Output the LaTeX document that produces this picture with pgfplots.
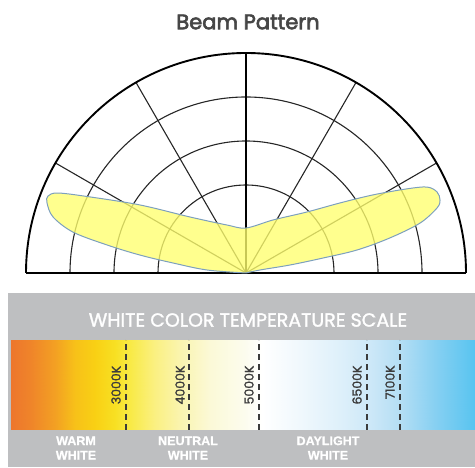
\documentclass[border=0pt]{standalone}
\usepackage{fontspec}
\setmainfont{Poppins}
\newfontfamily\titlefont{Poppins}[FakeBold=3]
\newfontfamily\scalefont{Poppins}[FakeBold=1.5]
\newfontfamily\lib{Liberation Sans}[FakeBold=1]
\usepackage{pgfplots}
\usepackage{pgfplotstable}
\pgfplotsset{compat=1.18}
\usepgfplotslibrary{polar}
\definecolor{panelgray}{RGB}{190,191,193}
\definecolor{titlegray}{RGB}{70,70,70}
\definecolor{dashgray}{RGB}{60,60,60}
\definecolor{beamyellow}{RGB}{255,255,110}
\definecolor{beamedge}{RGB}{125,160,190}
\pgfplotsset{colormap={temp}{
 rgb255=(237,118,45) rgb255=(239,132,42) rgb255=(243,160,35) rgb255=(247,193,25)
 rgb255=(249,208,20) rgb255=(248,224,35) rgb255=(249,234,70) rgb255=(250,240,130)
 rgb255=(250,244,175) rgb255=(251,249,215) rgb255=(252,252,238) rgb255=(255,255,255)
 rgb255=(240,248,253) rgb255=(222,240,250) rgb255=(205,232,248) rgb255=(180,222,244)
 rgb255=(135,208,242) rgb255=(88,196,240)}}
\pgfplotstableread{
x y c
11 0 0
30 0 1
55 0 2
75 0 3
95 0 4
115 0 5
130 0 6
155 0 7
180 0 8
210 0 9
245 0 10
262 0 11
300 0 12
340 0 13
370 0 14
400 0 15
435 0 16
475 0 17
11 1 0
30 1 1
55 1 2
75 1 3
95 1 4
115 1 5
130 1 6
155 1 7
180 1 8
210 1 9
245 1 10
262 1 11
300 1 12
340 1 13
370 1 14
400 1 15
435 1 16
475 1 17
}\gradtable
\begin{document}
\begin{tikzpicture}[x=1bp,y=1bp]
\path[use as bounding box] (0,0) rectangle (475,468);
\fill[panelgray] (8,1) rectangle (475,175);
\node[text=titlegray, font=\titlefont\fontsize{21bp}{24bp}\selectfont] at (248,446) {Beam Pattern};

\begin{polaraxis}[
  at={(246bp,195bp)}, anchor=origin,
  scale only axis, width=440bp, height=440bp,
  xmin=0, xmax=180, ymin=0, ymax=220,
  xtick={30,60,90,120,150}, ytick={88,132,176},
  xticklabels={}, yticklabels={},
  major tick length=0pt,
  grid=major,
  major grid style={draw=black!85, line width=1.1bp},
  axis line style={black, line width=1.9bp},
  clip=false,
]
\addplot[black, line width=1.7bp] coordinates {(90,0) (90,220)};
\addplot[fill=beamyellow, fill opacity=0.78, draw=beamedge, line width=1bp, smooth, tension=0.55]
 coordinates {
 (0,0) (12.1,14.3) (10.3,44.7) (11.0,78.4) (11.7,113.4) (13.7,148.2) (16.0,181.0)
 (18.8,201.8) (20.6,207.3) (23.0,207.5) (25.4,200.4) (27.6,181.6) (31.6,149.0)
 (36.7,117.2) (45.0,86.3) (63.0,59.5) (90,45)
 (111.6,51.6) (135,79.2) (147.3,125.9) (154.0,173.5) (156.95,204.3) (158.75,212.4)
 (160.6,210.95) (163.8,201.0) (166.7,177.8) (168.6,141.8) (170.4,107.5) (172.2,73.7)
 (175.6,39.1) (180,0)
 };
\end{polaraxis}

\begin{axis}[
  at={(11bp,38bp)}, anchor=south west,
  scale only axis, width=464bp, height=90bp,
  xmin=11, xmax=475, ymin=0, ymax=1,
  hide axis, clip=false,
  colormap name=temp, point meta min=0, point meta max=17,
]
\addplot[surf, shader=interp, mesh/cols=18, mesh/rows=2, point meta=explicit]
  table[x=x, y=y, meta=c] {\gradtable};
\addplot[dashgray, line width=1.8bp, dash pattern=on 6bp off 4bp] coordinates {(126,0) (126,1)};
\addplot[dashgray, line width=1.8bp, dash pattern=on 6bp off 4bp] coordinates {(189,0) (189,1)};
\addplot[dashgray, line width=1.8bp, dash pattern=on 6bp off 4bp] coordinates {(259,0) (259,1)};
\addplot[dashgray, line width=1.8bp, dash pattern=on 6bp off 4bp] coordinates {(367,0) (367,1)};
\addplot[dashgray, line width=1.8bp, dash pattern=on 6bp off 4bp] coordinates {(400,0) (400,1)};
\node[rotate=90, text=dashgray, font=\scalefont\fontsize{12.5bp}{14bp}\selectfont] at (axis cs:116,0.5) {3000K};
\node[rotate=90, text=dashgray, font=\scalefont\fontsize{12.5bp}{14bp}\selectfont] at (axis cs:180,0.5) {4000K};
\node[rotate=90, text=dashgray, font=\scalefont\fontsize{12.5bp}{14bp}\selectfont] at (axis cs:249,0.5) {5000K};
\node[rotate=90, text=dashgray, font=\scalefont\fontsize{12.5bp}{14bp}\selectfont] at (axis cs:357,0.5) {6500K};
\node[rotate=90, text=dashgray, font=\scalefont\fontsize{12.5bp}{14bp}\selectfont] at (axis cs:390,0.53) {7100K};
\end{axis}

\node[text=white, font=\scalefont\fontsize{19bp}{22bp}\selectfont] at (248,148) {WHITE COLOR TEMPERATURE SCALE};
\node[text=white, font=\lib\bfseries\fontsize{12.5bp}{14.5bp}\selectfont, align=center] at (76,20) {WARM\\WHITE};
\node[text=white, font=\lib\bfseries\fontsize{12.5bp}{14.5bp}\selectfont, align=center] at (188,20) {NEUTRAL\\WHITE};
\node[text=white, font=\lib\bfseries\fontsize{12.5bp}{14.5bp}\selectfont, align=center] at (328,20) {DAYLIGHT\\WHITE};
\end{tikzpicture}
\end{document}
